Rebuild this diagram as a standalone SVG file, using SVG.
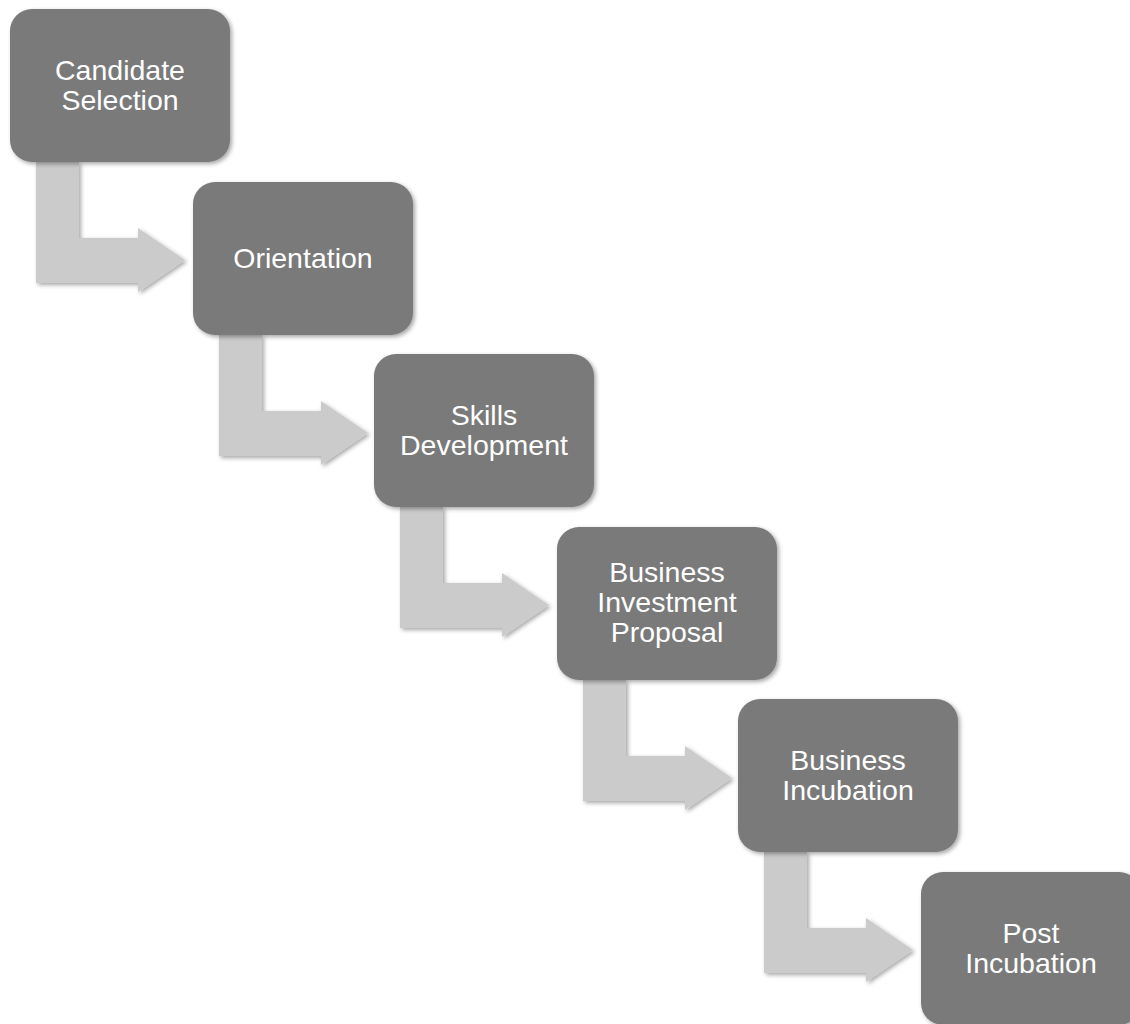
<svg xmlns="http://www.w3.org/2000/svg" width="1130" height="1024" viewBox="0 0 1130 1024">
<defs>
<filter id="sh" x="-20%" y="-20%" width="140%" height="140%">
<feDropShadow dx="2" dy="2" stdDeviation="2" flood-color="#000" flood-opacity="0.35"/>
</filter>
<path id="arr" d="M26,153 H69 V229 H128 V219 L175,251 L128,283 V274 H26 Z"/>
<rect id="box" x="0" y="0" width="220" height="153" rx="22" ry="22"/>
</defs>
<style>
.node use{fill:#7a7a7a;filter:url(#sh)}
.conn use{fill:#cbcbcb;filter:url(#sh)}
text{font-family:"Liberation Sans",Arial,sans-serif;font-size:28.5px;fill:#ffffff;text-anchor:middle}
</style>
<rect width="1130" height="1024" fill="#ffffff"/>
<g id="connectors" class="conn">
<use href="#arr" transform="translate(10,9)"/>
<use href="#arr" transform="translate(193,182)"/>
<use href="#arr" transform="translate(374,354)"/>
<use href="#arr" transform="translate(557,527)"/>
<use href="#arr" transform="translate(738,699)"/>
</g>
<g id="node-candidate-selection" class="node" transform="translate(10,9)">
<use href="#box"/>
<text x="110" y="71">Candidate</text>
<text x="110" y="101">Selection</text>
</g>
<g id="node-orientation" class="node" transform="translate(193,182)">
<use href="#box"/>
<text x="110" y="85.5">Orientation</text>
</g>
<g id="node-skills-development" class="node" transform="translate(374,354)">
<use href="#box"/>
<text x="110" y="71">Skills</text>
<text x="110" y="101">Development</text>
</g>
<g id="node-business-investment-proposal" class="node" transform="translate(557,527)">
<use href="#box"/>
<text x="110" y="55">Business</text>
<text x="110" y="85">Investment</text>
<text x="110" y="115">Proposal</text>
</g>
<g id="node-business-incubation" class="node" transform="translate(738,699)">
<use href="#box"/>
<text x="110" y="71">Business</text>
<text x="110" y="101">Incubation</text>
</g>
<g id="node-post-incubation" class="node" transform="translate(921,872)">
<use href="#box"/>
<text x="110" y="71">Post</text>
<text x="110" y="101">Incubation</text>
</g>
</svg>
